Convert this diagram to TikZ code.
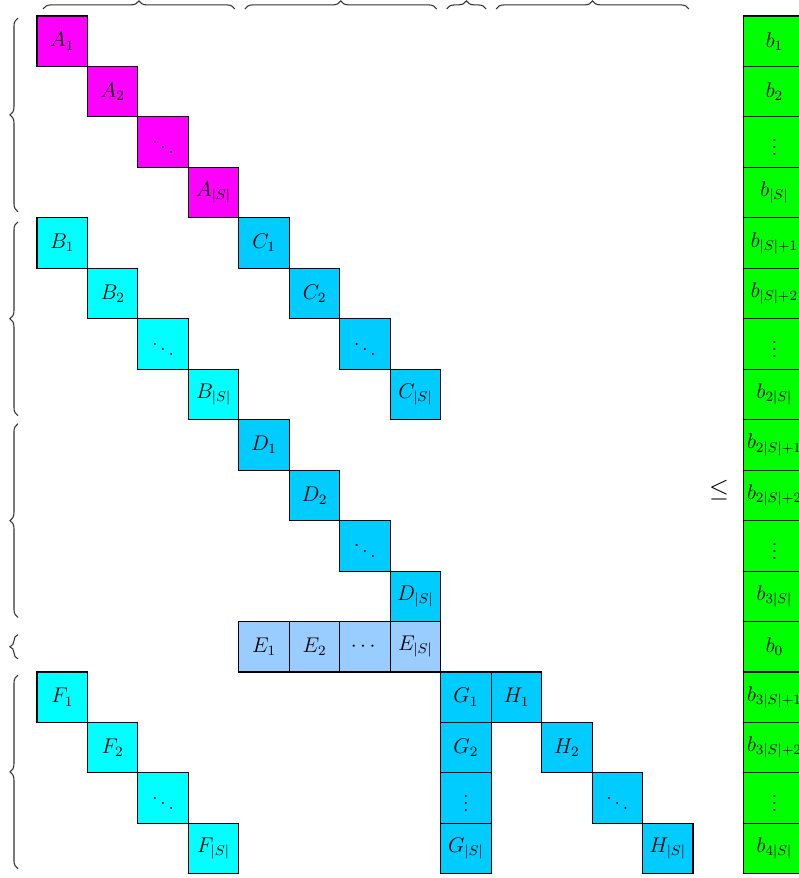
\documentclass[tikz,border=0pt]{standalone}
\usepackage{amsmath}
\usepackage{amssymb}
\usepackage{tikz}
\usetikzlibrary{positioning, decorations.pathreplacing}

\definecolor{pinkblk}{HTML}{FF00FF}
\definecolor{cyanblk}{HTML}{00FFFF}
\definecolor{blueblk}{HTML}{00CCFF}
\definecolor{paleblk}{HTML}{99CCFF}
\definecolor{rhsgreen}{HTML}{00FF00}

\tikzset{
  cell/.style={draw, minimum size=1cm, inner sep=0pt, font=\large, line width=0.6pt},
  rhs/.style={cell, fill=rhsgreen, minimum width=1.23cm},
  grp/.style={decorate, decoration={brace, amplitude=0.16cm}, line width=0.6pt, black!80}
}

\begin{document}
\begin{tikzpicture}
  \useasboundingbox (0,0) rectangle (15.82,-17.40);
  \begin{scope}[shift={(1.233,-0.817)}, y=-1cm]
    % A block
    \node[cell, fill=pinkblk] (A1) at (0,0) {$A_1$};
    \node[cell, fill=pinkblk] (A2) at (1,1) {$A_2$};
    \node[cell, fill=pinkblk] (A3) at (2,2) {$\ddots$};
    \node[cell, fill=pinkblk] (A4) at (3,3) {$A_{|S|}$};

    % B and C blocks
    \node[cell, fill=cyanblk] (B1) at (0,4) {$B_1$};
    \node[cell, fill=cyanblk] (B2) at (1,5) {$B_2$};
    \node[cell, fill=cyanblk] (B3) at (2,6) {$\ddots$};
    \node[cell, fill=cyanblk] (B4) at (3,7) {$B_{|S|}$};
    \node[cell, fill=blueblk] (C1) at (4,4) {$C_1$};
    \node[cell, fill=blueblk] (C2) at (5,5) {$C_2$};
    \node[cell, fill=blueblk] (C3) at (6,6) {$\ddots$};
    \node[cell, fill=blueblk] (C4) at (7,7) {$C_{|S|}$};

    % D block
    \node[cell, fill=blueblk] (D1) at (4,8) {$D_1$};
    \node[cell, fill=blueblk] (D2) at (5,9) {$D_2$};
    \node[cell, fill=blueblk] (D3) at (6,10) {$\ddots$};
    \node[cell, fill=blueblk] (D4) at (7,11) {$D_{|S|}$};

    % E row
    \node[cell, fill=paleblk] (E1) at (4,12) {$E_1$};
    \node[cell, fill=paleblk] (E2) at (5,12) {$E_2$};
    \node[cell, fill=paleblk] (E3) at (6,12) {$\cdots$};
    \node[cell, fill=paleblk] (E4) at (7,12) {$E_{|S|}$};

    % F, G and H blocks
    \node[cell, fill=cyanblk] (F1) at (0,13) {$F_1$};
    \node[cell, fill=cyanblk] (F2) at (1,14) {$F_2$};
    \node[cell, fill=cyanblk] (F3) at (2,15) {$\ddots$};
    \node[cell, fill=cyanblk] (F4) at (3,16) {$F_{|S|}$};
    \node[cell, fill=blueblk] (G1) at (8,13) {$G_1$};
    \node[cell, fill=blueblk] (G2) at (8,14) {$G_2$};
    \node[cell, fill=blueblk] (G3) at (8,15) {$\vdots$};
    \node[cell, fill=blueblk] (G4) at (8,16) {$G_{|S|}$};
    \node[cell, fill=blueblk] (H1) at (9,13) {$H_1$};
    \node[cell, fill=blueblk] (H2) at (10,14) {$H_2$};
    \node[cell, fill=blueblk] (H3) at (11,15) {$\ddots$};
    \node[cell, fill=blueblk] (H4) at (12,16) {$H_{|S|}$};

    % right-hand side
    \node[rhs] (r1) at (14.115,0) {$b_1$};
    \node[rhs] (r2) at (14.115,1) {$b_2$};
    \node[rhs] (r3) at (14.115,2) {$\vdots$};
    \node[rhs] (r4) at (14.115,3) {$b_{|S|}$};
    \node[rhs] (r5) at (14.115,4) {$b_{|S|+1}$};
    \node[rhs] (r6) at (14.115,5) {$b_{|S|+2}$};
    \node[rhs] (r7) at (14.115,6) {$\vdots$};
    \node[rhs] (r8) at (14.115,7) {$b_{2|S|}$};
    \node[rhs] (r9) at (14.115,8) {$b_{2|S|+1}$};
    \node[rhs] (r10) at (14.115,9) {$b_{2|S|+2}$};
    \node[rhs] (r11) at (14.115,10) {$\vdots$};
    \node[rhs] (r12) at (14.115,11) {$b_{3|S|}$};
    \node[rhs] (r13) at (14.115,12) {$b_0$};
    \node[rhs] (r14) at (14.115,13) {$b_{3|S|+1}$};
    \node[rhs] (r15) at (14.115,14) {$b_{3|S|+2}$};
    \node[rhs] (r16) at (14.115,15) {$\vdots$};
    \node[rhs] (r17) at (14.115,16) {$b_{4|S|}$};

    \node[left=0.15cm of r10, yshift=0.1cm, font=\Large] (leq) {$\leq$};

    % column groups
    \draw[grp] (-0.38,-0.64) -- (3.42,-0.64);
    \draw[grp] (3.62,-0.64) -- (7.42,-0.64);
    \draw[grp] (7.62,-0.64) -- (8.40,-0.64);
    \draw[grp] (8.60,-0.64) -- (12.42,-0.64);

    % row groups
    \draw[grp] (-0.876,3.38) -- (-0.876,-0.46);
    \draw[grp] (-0.876,7.42) -- (-0.876,3.58);
    \draw[grp] (-0.876,11.42) -- (-0.876,7.58);
    \draw[grp] (-0.876,12.24) -- (-0.876,11.76);
    \draw[grp] (-0.876,16.40) -- (-0.876,12.56);
  \end{scope}
\end{tikzpicture}
\end{document}
